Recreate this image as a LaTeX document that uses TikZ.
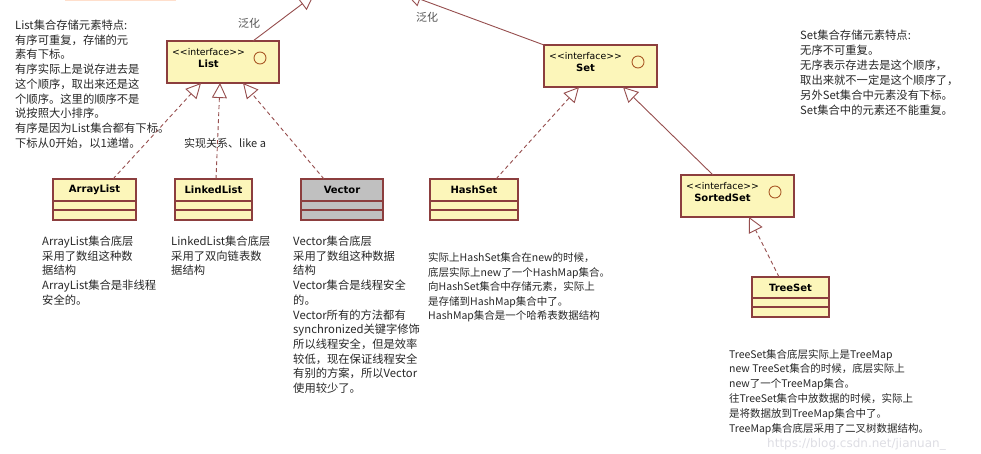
\documentclass[tikz,border=0pt]{standalone}
\usepackage{fontspec}
\setmainfont{DejaVu Sans}
\newfontfamily\cjk{Noto Sans CJK SC}
\usetikzlibrary{arrows.meta,calc}
\definecolor{boxfill}{RGB}{252,246,186}
\definecolor{boxdraw}{RGB}{140,62,62}
\definecolor{linkcol}{RGB}{150,78,78}
\definecolor{grayfill}{RGB}{192,192,192}
\definecolor{circcol}{RGB}{170,90,40}
\definecolor{txt}{RGB}{40,40,40}
\definecolor{wmark}{RGB}{222,222,228}
\tikzset{
  boxline/.style={draw=boxdraw, line width=1.1pt},
  iface/.style={boxline, fill=boxfill, minimum width=112pt, minimum height=42pt, inner sep=0pt, outer sep=0pt},
  classbox/.style={boxline, minimum height=22pt, inner sep=0pt, outer sep=0pt, font=\fontsize{10}{12}\selectfont\bfseries, text=black},
  stereo/.style={font=\fontsize{9.3}{11}\selectfont, text=black, inner sep=0pt, anchor=west},
  ifname/.style={font=\fontsize{10}{12}\selectfont\bfseries, text=black, inner sep=0pt},
  ifcirc/.style={circle, draw=circcol, line width=0.9pt, minimum size=12pt, inner sep=0pt},
  note/.style={font=\cjk\fontsize{11.3}{14}\selectfont, text=txt, inner sep=0pt, anchor=base west},
  smallnote/.style={font=\cjk\fontsize{10.5}{13}\selectfont, text=txt, inner sep=0pt, anchor=base west},
  lbl/.style={font=\cjk\fontsize{11}{13}\selectfont, text=txt!80, inner sep=0pt},
  realize/.style={draw=linkcol, line width=0.9pt, dash pattern=on 4pt off 3pt, -{Triangle[open, length=15pt, width=15pt]}},
  generalize/.style={draw=linkcol, line width=0.9pt, -{Triangle[open, length=15pt, width=15pt]}},
}
\newcommand\compartments[2]{%
  \draw[boxline, fill=#2] (#1.south west) rectangle ($(#1.south east)+(0,9)$);
  \draw[boxline, fill=#2] ($(#1.south west)+(0,9)$) rectangle ($(#1.south east)+(0,19)$);
}
\newcommand\interfacebox[3]{% #1 name, #2 centre, #3 width
  \node[iface, minimum width=#3] (#1) at #2 {};
  \node[stereo] (#1-st) at ($(#1.north west)+(5,11)$) {{<}{<}interface{>}{>}};
  \node[ifname] (#1-name) at ($(#1.north west)+(41.5,22.5)$) {#1};
  \node[ifcirc] (#1-c) at ($(#1.north east)+(-19,17)$) {};
}
\newcommand\notelines[5]{% #1 prefix, #2 style, #3 x, #4 first baseline, #5 skip, then lines
  \notelinesaux{#1}{#2}{#3}{#4}{#5}%
}
\newcommand\notelinesaux[6]{%
  \foreach \myline [count=\i] in {#6} {
    \node[#2] (#1-\i) at (#3, {#4+(\i-1)*#5}) {\myline};
  }
}
\begin{document}
\begin{tikzpicture}[x=1pt,y=-1pt]
\useasboundingbox (0,0) rectangle (981,453);
\fill[white] (0,0) rectangle (981,453);

% faint box edge at the top
\draw[draw=red!25!orange!20, line width=1pt] (65,0.5) -- (176,0.5);

% interfaces
\interfacebox{List}{(223,62)}{112pt}
\interfacebox{Set}{(600.5,66)}{113pt}
\interfacebox{SortedSet}{(737.5,196)}{113pt}

% classes
\node[classbox, fill=boxfill, minimum width=83pt] (ArrayList) at (94.5,190) {ArrayList};
\compartments{ArrayList}{boxfill}
\node[classbox, fill=boxfill, minimum width=77pt] (LinkedList) at (213.5,190) {LinkedList};
\compartments{LinkedList}{boxfill}
\node[classbox, fill=grayfill, minimum width=82pt] (Vector) at (342,190) {Vector};
\compartments{Vector}{grayfill}
\node[classbox, fill=boxfill, minimum width=88pt] (HashSet) at (474,190) {HashSet};
\compartments{HashSet}{boxfill}
\node[classbox, fill=boxfill, minimum width=77pt, minimum height=21pt] (TreeSet) at (790.5,287.5) {TreeSet};
\compartments{TreeSet}{boxfill}

% connectors
\coordinate (topL) at (314,-5);
\coordinate (topR) at (406,-6);
\draw[generalize] ([xshift=30pt]List.north) -- (topL);
\draw[generalize] (Set.north west) -- (topR);
\draw[realize] ([xshift=18.5pt]ArrayList.north) -- ([xshift=-22pt]List.south);
\draw[realize] ([xshift=2.5pt]LinkedList.north) -- ([xshift=-3pt]List.south);
\draw[realize] ([xshift=-18pt]Vector.north) -- ([xshift=20pt]List.south);
\draw[realize] ([xshift=22pt]HashSet.north) -- ([xshift=-21.5pt]Set.south);
\draw[generalize] ([xshift=-24.5pt]SortedSet.north) -- ([xshift=22.5pt]Set.south);
\draw[realize] ([xshift=-11.5pt]TreeSet.north) -- ([xshift=11.5pt]SortedSet.south);

% labels
\node[lbl] (fanhua1) at (249,23) {泛化};
\node[lbl] (fanhua2) at (427,17) {泛化};
\node[lbl, anchor=west, text=txt] (impl) at (184,143) {实现关系、like a};

% notes
\notelines{listnote}{note}{15}{29.5}{14.7}{List集合存储元素特点:,%
有序可重复，存储的元,%
素有下标。,%
有序实际上是说存进去是,%
这个顺序，取出来还是这,%
个顺序。这里的顺序不是,%
说按照大小排序。,%
有序是因为List集合都有下标。,%
下标从0开始，以1递增。}

\notelines{setnote}{note}{800}{39.5}{15}{Set集合存储元素特点:,%
无序不可重复。,%
无序表示存进去是这个顺序，,%
取出来就不一定是这个顺序了，,%
另外Set集合中元素没有下标。,%
Set集合中的元素还不能重复。}

\notelines{alnote}{note}{42}{245.5}{14.7}{ArrayList集合底层,%
采用了数组这种数,%
据结构,%
ArrayList集合是非线程,%
安全的。}

\notelines{llnote}{note}{171}{245.5}{14.7}{LinkedList集合底层,%
采用了双向链表数,%
据结构}

\notelines{vecnote}{note}{293}{245.5}{14.7}{Vector集合底层,%
采用了数组这种数据,%
结构,%
Vector集合是线程安全,%
的。,%
Vector所有的方法都有,%
synchronized关键字修饰,%
所以线程安全，但是效率,%
较低，现在保证线程安全,%
有别的方案，所以Vector,%
使用较少了。}

\notelines{hsnote}{smallnote}{428}{261.5}{14.5}{实际上HashSet集合在new的时候，,%
底层实际上new了一个HashMap集合。,%
向HashSet集合中存储元素，实际上,%
是存储到HashMap集合中了。,%
HashMap集合是一个哈希表数据结构}

\notelines{tsnote}{smallnote}{729}{358}{14.8}{TreeSet集合底层实际上是TreeMap,%
new TreeSet集合的时候，底层实际上,%
new了一个TreeMap集合。,%
往TreeSet集合中放数据的时候，实际上,%
是将数据放到TreeMap集合中了。,%
TreeMap集合底层采用了二叉树数据结构。}

% watermark
\node[font=\fontsize{12}{14}\selectfont, text=wmark, anchor=west, inner sep=0pt] (wm) at (767,444) {https://blog.csdn.net/jianuan\_};
\end{tikzpicture}
\end{document}
